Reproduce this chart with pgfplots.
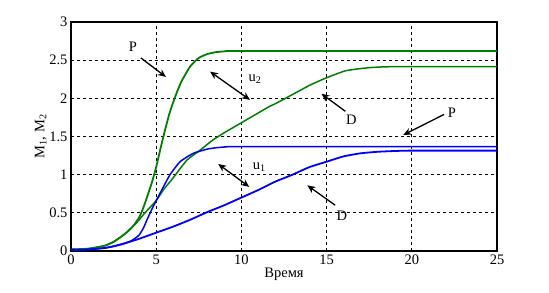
\documentclass[border=0pt]{standalone}
\usepackage{pgfplots}
\pgfplotsset{compat=1.18}
\usepackage{fontspec}
\setmainfont{Liberation Serif}
\usetikzlibrary{arrows.meta}
\definecolor{cgreen}{RGB}{0,128,0}
\definecolor{cblue}{RGB}{0,0,255}
\begin{document}
\begin{tikzpicture}
\path[use as bounding box] (-71bp,-42bp) rectangle (478bp,251bp);
\begin{axis}[
  at={(0,0)}, anchor=south west,
  width=426bp, height=229bp, scale only axis,
  xmin=0, xmax=25, ymin=0, ymax=3,
  xtick={0,5,...,25}, ytick={0,0.5,...,3},
  grid=major,
  major grid style={black, line width=0.7bp, dash pattern=on 3bp off 3bp},
  axis line style={black, line width=1.2bp},
  major tick length=0pt,
  /pgf/number format/assume math mode=true,
  tick label style={font=\fontsize{14.5bp}{16bp}\selectfont},
  label style={font=\fontsize{14.5bp}{16bp}\selectfont},
  xlabel={Время},
  ylabel={M\textsubscript{1}, M\textsubscript{2}},
  xlabel style={yshift=3bp},
  ylabel style={yshift=-4bp},
  clip=true,
]
% green P
\addplot[cgreen, line width=1.8bp, smooth, tension=0.3] coordinates {
(0,0.02) (1,0.03) (1.7,0.056) (2,0.07) (2.5,0.12) (2.9,0.18) (3.3,0.25) (3.66,0.33)
(4,0.44) (4.25,0.57) (4.5,0.73) (4.75,0.9) (5,1.1) (5.25,1.34) (5.5,1.57) (5.75,1.78)
(6,1.95) (6.25,2.1) (6.5,2.23) (7,2.42) (7.5,2.53) (8,2.58) (8.5,2.605) (9,2.615)
(10,2.62) (25,2.62)};
% green D
\addplot[cgreen, line width=1.5bp, smooth, tension=0.3] coordinates {
(0,0.02) (1,0.03) (2,0.07) (2.5,0.12) (2.9,0.18) (3.3,0.25) (3.85,0.37) (4.34,0.5)
(5,0.66) (5.42,0.8) (6,0.96) (6.8,1.19) (7.57,1.32) (8.3,1.45) (9,1.55) (10,1.68)
(11,1.81) (11.7,1.9) (12,1.93) (13,2.05) (14,2.17) (15,2.27) (16.1,2.36) (17,2.39)
(17.7,2.405) (19,2.415) (25,2.415)};
% blue P
\addplot[cblue, line width=1.5bp, smooth, tension=0.3] coordinates {
(0,0.02) (1,0.02) (2,0.04) (2.5,0.06) (3,0.09) (3.5,0.13) (3.75,0.165) (4,0.21)
(4.25,0.3) (4.5,0.43) (4.75,0.55) (5,0.66) (5.4,0.83) (5.81,1.0) (6.4,1.17)
(7.18,1.28) (8,1.335) (8.5,1.352) (9,1.362) (10,1.367) (25,1.367)};
% blue D
\addplot[cblue, line width=1.8bp, smooth, tension=0.3] coordinates {
(0,0.01) (1,0.02) (2,0.04) (3,0.09) (4,0.16) (5,0.24) (6,0.32) (7,0.41)
(8,0.51) (9,0.60) (10,0.70) (11,0.80) (12,0.91) (13,1.00) (14,1.10) (15,1.17)
(16,1.24) (17,1.28) (18,1.30) (19,1.31) (20,1.315) (25,1.315)};
% annotations
\tikzset{lab/.style={font=\fontsize{14.5bp}{16bp}\selectfont, anchor=center, inner sep=0pt},
  arr/.style={black, line width=1.3bp}}
\draw[arr, -{Stealth[length=8bp,width=7bp]}] (axis cs:4.1,2.53) -- (axis cs:5.57,2.28);
\node[lab] at (axis cs:3.64,2.68) {P};
\draw[arr, {Stealth[length=8bp,width=7bp]}-{Stealth[length=8bp,width=7bp]}] (axis cs:8.16,2.35) -- (axis cs:10.5,1.98);
\node[lab] at (axis cs:10.8,2.25) {u\textsubscript{2}};
\draw[arr, -{Stealth[length=8bp,width=7bp]}] (axis cs:16.1,1.83) -- (axis cs:14.7,2.06);
\node[lab] at (axis cs:16.45,1.72) {D};
\draw[arr, -{Stealth[length=8bp,width=7bp]}] (axis cs:21.9,1.79) -- (axis cs:19.5,1.52);
\node[lab] at (axis cs:22.35,1.81) {P};
\draw[arr, {Stealth[length=8bp,width=7bp]}-{Stealth[length=8bp,width=7bp]}] (axis cs:8.64,1.14) -- (axis cs:10.46,0.84);
\node[lab] at (axis cs:11.05,1.1) {u\textsubscript{1}};
\draw[arr, -{Stealth[length=8bp,width=7bp]}] (axis cs:15.5,0.60) -- (axis cs:13.87,0.86);
\node[lab] at (axis cs:15.9,0.46) {D};
\end{axis}
\end{tikzpicture}
\end{document}
